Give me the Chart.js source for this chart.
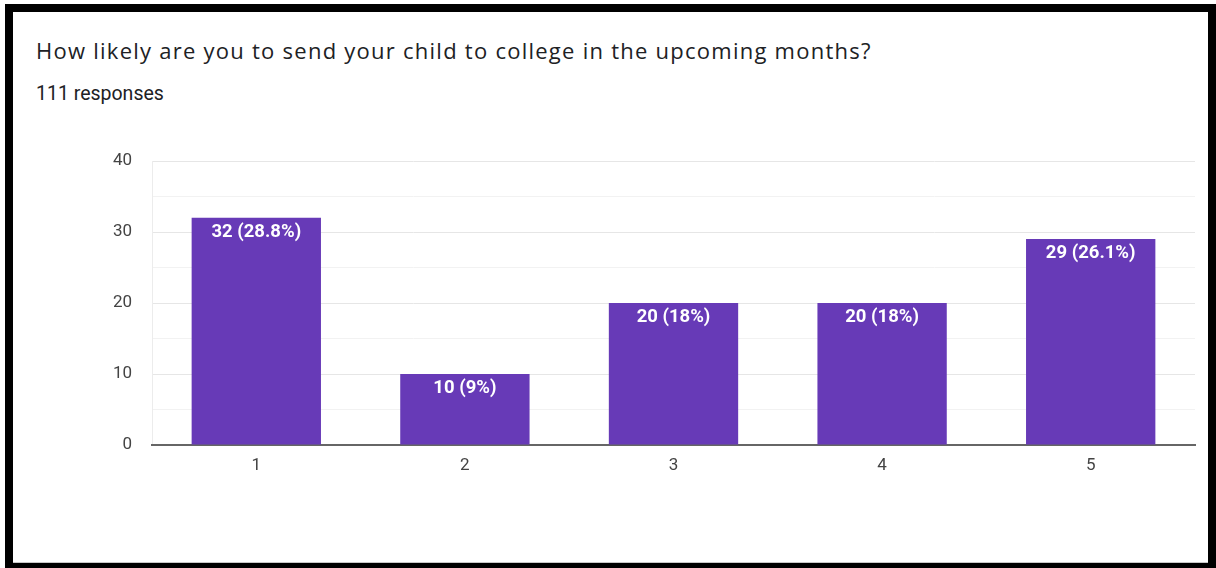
<!DOCTYPE html>
<html>
<head>
<meta charset="utf-8">
<script src="https://cdn.jsdelivr.net/npm/chart.js@4"></script>
<style>
    html, body { margin: 0; padding: 0; background: #fff; }
    body { width: 1216px; height: 568px; position: relative; overflow: hidden; font-family: Roboto, Arial, sans-serif; }
    .frame {
        position: absolute; left: 5px; top: 4px; width: 1211px; height: 567px;
        box-sizing: border-box; border: 8px solid #000;
    }
    .card {
        position: absolute; left: 0; top: 0; right: 0; bottom: 0;
        border-bottom: 1px solid #c8c8c8;
    }
    .title {
        position: absolute; left: 36px; top: 35px; font-family: "Open Sans", Roboto, sans-serif;
        font-size: 22px; letter-spacing: 1.25px; color: #202124; white-space: nowrap;
    }
    .count {
        position: absolute; left: 36px; top: 82px; font-size: 19.5px; color: #202124;
    }
    #chartWrap { position: absolute; left: 0; top: 0; width: 1216px; height: 568px; }
</style>
</head>
<body>
<div class="frame"><div class="card"></div></div>
<div class="title">How likely are you to send your child to college in the upcoming months?</div>
<div class="count">111 responses</div>
<div id="chartWrap"><canvas id="likelyChart" width="1216" height="568"></canvas></div>

<script>
const categories = ['1', '2', '3', '4', '5'];
const responses = [32, 10, 20, 20, 29];
const totalResponses = 111;
const yTicks = [0, 10, 20, 30, 40];

const barColor = '#673ab7';

function pctLabel(v) {
    const pct = Number((v / totalResponses * 100).toFixed(1));
    return `${v} (${pct}%)`;
}

// white value labels just inside the top of each bar
const barLabels = {
    id: 'barLabels',
    afterDatasetsDraw(chart) {
        const ctx = chart.ctx;
        const meta = chart.getDatasetMeta(0);
        ctx.save();
        ctx.fillStyle = '#ffffff';
        ctx.font = 'bold 18.5px Roboto, Arial, sans-serif';
        ctx.textAlign = 'center';
        ctx.textBaseline = 'top';
        meta.data.forEach((bar, i) => {
            ctx.fillText(pctLabel(responses[i]), bar.x, bar.y + 5);
        });
        ctx.restore();
    }
};

new Chart(document.getElementById('likelyChart'), {
    type: 'bar',
    data: {
        labels: categories,
        datasets: [{
            data: responses,
            backgroundColor: barColor,
            borderWidth: 0,
            categoryPercentage: 1,
            barPercentage: 0.62
        }]
    },
    options: {
        responsive: false,
        animation: false,
        devicePixelRatio: 1,
        layout: { padding: { left: 92, right: 21, top: 161, bottom: 83 } },
        plugins: {
            legend: { display: false },
            tooltip: { enabled: false }
        },
        scales: {
            y: {
                min: 0,
                max: 40,
                afterFit: (scale) => { scale.width = 60; },
                ticks: {
                    stepSize: 5,
                    padding: 20,
                    color: '#444',
                    font: { family: 'Roboto', size: 17 },
                    callback: (v) => yTicks.includes(v) ? v : ''
                },
                grid: {
                    drawTicks: false,
                    color: (c) => (c.tick && c.tick.value % 10 === 0) ? '#e6e6e6' : '#f2f2f2',
                    lineWidth: 1
                },
                border: { display: true, color: '#ececec', width: 1 }
            },
            x: {
                afterFit: (scale) => { scale.height = 40; },
                ticks: {
                    padding: 11,
                    color: '#444',
                    font: { family: 'Roboto', size: 17 }
                },
                grid: {
                    drawTicks: false,
                    offset: true,
                    color: (c) => (c.index === categories.length) ? '#ececec' : 'transparent'
                },
                border: { display: true, color: '#666', width: 2 }
            }
        }
    },
    plugins: [barLabels]
});
</script>
</body>
</html>
